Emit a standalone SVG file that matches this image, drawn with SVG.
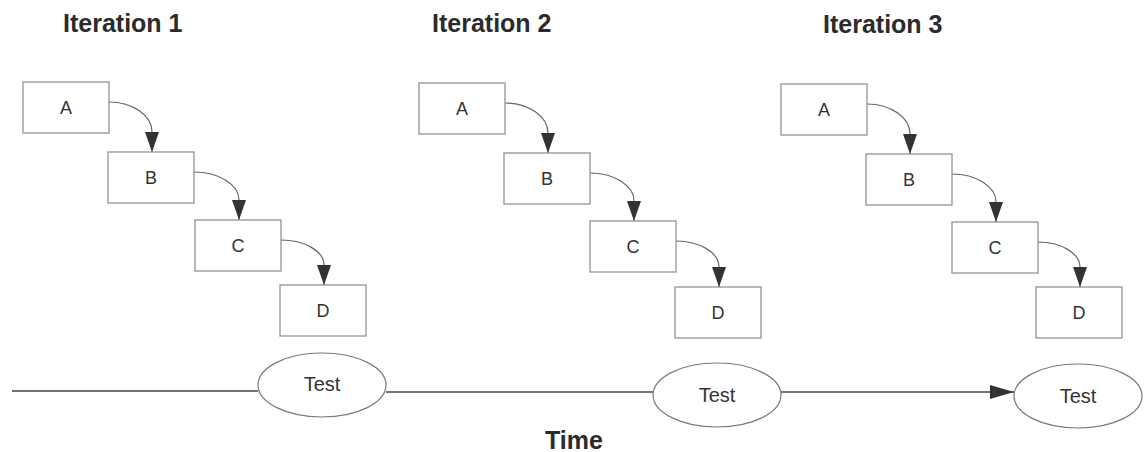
<svg xmlns="http://www.w3.org/2000/svg" width="1144" height="452" viewBox="0 0 1144 452">
<style>
.title{font-family:"Liberation Sans",Arial,sans-serif;font-weight:bold;font-size:25px;fill:#2b2b2b}
.box rect{fill:#fff;stroke:#8a8a8a;stroke-width:1.2}
.box text{font-family:"Liberation Sans",Arial,sans-serif;font-size:18px;fill:#333;text-anchor:middle}
.test ellipse{fill:#fff;stroke:#7a7a7a;stroke-width:1.2}
.test text{font-family:"Liberation Sans",Arial,sans-serif;font-size:20px;fill:#333;text-anchor:middle}
.flow{fill:none;stroke:#666;stroke-width:1.2;marker-end:url(#ah)}
.time{fill:none;stroke:#444;stroke-width:1.7}
</style>
<defs>
<marker id="ah" markerUnits="userSpaceOnUse" markerWidth="20" markerHeight="14" refX="20" refY="7" orient="auto" viewBox="0 0 20 14">
<path d="M0,0 L20,7 L0,14 Z" fill="#333"/>
</marker>
<marker id="ah2" markerUnits="userSpaceOnUse" markerWidth="24" markerHeight="14" refX="24" refY="7" orient="auto" viewBox="0 0 24 14">
<path d="M0,0 L24,7 L0,14 Z" fill="#333"/>
</marker>
</defs>
<rect width="1144" height="452" fill="#fff"/>
<g id="titles">
<text class="title" x="63" y="32">Iteration 1</text>
<text class="title" x="432" y="32">Iteration 2</text>
<text class="title" x="823" y="33">Iteration 3</text>
<text class="title" x="574" y="449" text-anchor="middle">Time</text>
</g>
<g id="connectors">
<path class="flow" d="M109,102 C132.7,102 152,115.5 152,132 L152,152"/>
<path class="flow" d="M194,172 C218.8,172 239,184.6 239,200 L239,220"/>
<path class="flow" d="M281,240 C304.7,240 324,251.3 324,265 L324,285"/>
<path class="flow" d="M505,103 C528.7,103 548,116.5 548,133 L548,153"/>
<path class="flow" d="M590,173 C614.2,173 634,185.6 634,201 L634,221"/>
<path class="flow" d="M676,241 C699.7,241 719,252.7 719,267 L719,287"/>
<path class="flow" d="M867,104 C890.7,104 910,117.5 910,134 L910,154"/>
<path class="flow" d="M952,174 C976.2,174 996,186.6 996,202 L996,222"/>
<path class="flow" d="M1038,242 C1061,242 1080,253.3 1080,267 L1080,287"/>
<path class="time" d="M12,391 L258,391"/>
<path class="time" d="M386,392 L653,392"/>
<path class="time" d="M781,392 L1014,392" marker-end="url(#ah2)"/>
</g>
<g id="it1-A" class="box"><rect x="23" y="82" width="86" height="51"/><text x="66" y="114">A</text></g>
<g id="it1-B" class="box"><rect x="108" y="152" width="86" height="51"/><text x="151" y="184">B</text></g>
<g id="it1-C" class="box"><rect x="195" y="220" width="86" height="51"/><text x="238" y="252">C</text></g>
<g id="it1-D" class="box"><rect x="280" y="285" width="86" height="51"/><text x="323" y="317">D</text></g>
<g id="it2-A" class="box"><rect x="419" y="83" width="86" height="51"/><text x="462" y="115">A</text></g>
<g id="it2-B" class="box"><rect x="504" y="153" width="86" height="51"/><text x="547" y="185">B</text></g>
<g id="it2-C" class="box"><rect x="590" y="221" width="86" height="51"/><text x="633" y="253">C</text></g>
<g id="it2-D" class="box"><rect x="675" y="287" width="86" height="51"/><text x="718" y="319">D</text></g>
<g id="it3-A" class="box"><rect x="781" y="84" width="86" height="51"/><text x="824" y="116">A</text></g>
<g id="it3-B" class="box"><rect x="866" y="154" width="86" height="51"/><text x="909" y="186">B</text></g>
<g id="it3-C" class="box"><rect x="952" y="222" width="86" height="51"/><text x="995" y="254">C</text></g>
<g id="it3-D" class="box"><rect x="1036" y="287" width="86" height="51"/><text x="1079" y="319">D</text></g>
<g id="test1" class="test"><ellipse cx="322" cy="385" rx="64" ry="32"/><text x="322" y="391">Test</text></g>
<g id="test2" class="test"><ellipse cx="717" cy="395" rx="64" ry="32"/><text x="717" y="402">Test</text></g>
<g id="test3" class="test"><ellipse cx="1078" cy="396" rx="64" ry="32"/><text x="1078" y="403">Test</text></g>
</svg>
